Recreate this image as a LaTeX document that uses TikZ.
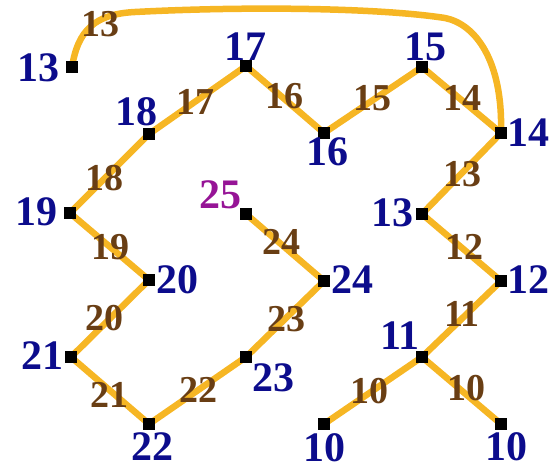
\documentclass[tikz,border=0pt]{standalone}
\usepackage{fontspec}
\setmainfont{Liberation Serif}
\usetikzlibrary{backgrounds}
\definecolor{nblue}{RGB}{12,12,140}
\definecolor{ebrown}{RGB}{105,62,20}
\definecolor{lpurple}{RGB}{150,20,150}
\definecolor{lorange}{RGB}{246,182,36}
\begin{document}
\begin{tikzpicture}[x=1pt,y=-1pt,
 sq/.style={fill=black, minimum size=12pt, inner sep=0pt, draw=none, rectangle},
 nl/.style={text=nblue, font=\bfseries\fontsize{42}{42}\selectfont, inner sep=0pt},
 el/.style={text=ebrown, font=\bfseries\fontsize{38}{38}\selectfont, inner sep=0pt},
 conn/.style={draw=lorange, line width=6.5pt, line cap=round, line join=round}]
\useasboundingbox (0,0) rectangle (556,471);
% vertices
\node[sq] (a13) at (72,67) {};
\node[sq] (a17) at (246,66) {};
\node[sq] (a15) at (422,67) {};
\node[sq] (a18) at (149,134) {};
\node[sq] (a16) at (324,133) {};
\node[sq] (a14) at (501,133) {};
\node[sq] (a19) at (70,213) {};
\node[sq] (a25) at (246,214) {};
\node[sq] (b13) at (422,214) {};
\node[sq] (a20) at (149,280) {};
\node[sq] (a24) at (324,281) {};
\node[sq] (a12) at (501,281) {};
\node[sq] (a21) at (71,357) {};
\node[sq] (a23) at (246,357) {};
\node[sq] (a11) at (422,357) {};
\node[sq] (a22) at (149,424) {};
\node[sq] (a10) at (324,424) {};
\node[sq] (b10) at (501,424) {};
% edges
\begin{pgfonlayer}{background}
\draw[conn] (a13.center) .. controls (78,30) and (95,14) .. (135,12)
  .. controls (250,6) and (380,8) .. (445,18)
  .. controls (475,24) and (503,60) .. (a14.center);
\draw[conn] (a18.center) -- (a17.center) -- (a16.center) -- (a15.center) -- (a14.center);
\draw[conn] (a18.center) -- (a19.center) -- (a20.center) -- (a21.center) -- (a22.center) -- (a23.center) -- (a24.center) -- (a25.center);
\draw[conn] (a14.center) -- (b13.center) -- (a12.center) -- (a11.center) -- (a10.center);
\draw[conn] (a11.center) -- (b10.center);
\end{pgfonlayer}
% vertex labels
\node[nl] (l13a) at (38,68) {13};
\node[nl] (l17) at (245,47) {17};
\node[nl] (l15) at (425,47) {15};
\node[nl] (l18) at (136,112) {18};
\node[nl] (l16) at (327,152) {16};
\node[nl] (l14) at (528,133) {14};
\node[nl] (l19) at (37,212) {19};
\node[nl, text=lpurple] (l25) at (220,195) {25};
\node[nl] (l13b) at (392,213) {13};
\node[nl] (l20) at (177,280) {20};
\node[nl] (l24) at (352,280) {24};
\node[nl] (l12) at (528,280) {12};
\node[nl] (l21) at (42,356) {21};
\node[nl] (l23) at (273,378) {23};
\node[nl] (l11) at (400,336) {11};
\node[nl] (l22) at (152,447) {22};
\node[nl] (l10a) at (324,448) {10};
\node[nl] (l10b) at (506,447) {10};
% edge labels
\node[el] (e13a) at (100,24) {13};
\node[el] (e17) at (195,102) {17};
\node[el] (e16) at (284,96) {16};
\node[el] (e15) at (372,98) {15};
\node[el] (e14) at (462,98) {14};
\node[el] (e18) at (104,178) {18};
\node[el] (e19) at (110,247) {19};
\node[el] (e13b) at (462,174) {13};
\node[el] (e12) at (464,247) {12};
\node[el] (e24) at (281,242) {24};
\node[el] (e20) at (104,318) {20};
\node[el] (e21) at (109,395) {21};
\node[el] (e22) at (198,390) {22};
\node[el] (e23) at (286,319) {23};
\node[el] (e11) at (462,314) {11};
\node[el] (e10a) at (369,391) {10};
\node[el] (e10b) at (466,388) {10};
\end{tikzpicture}
\end{document}
